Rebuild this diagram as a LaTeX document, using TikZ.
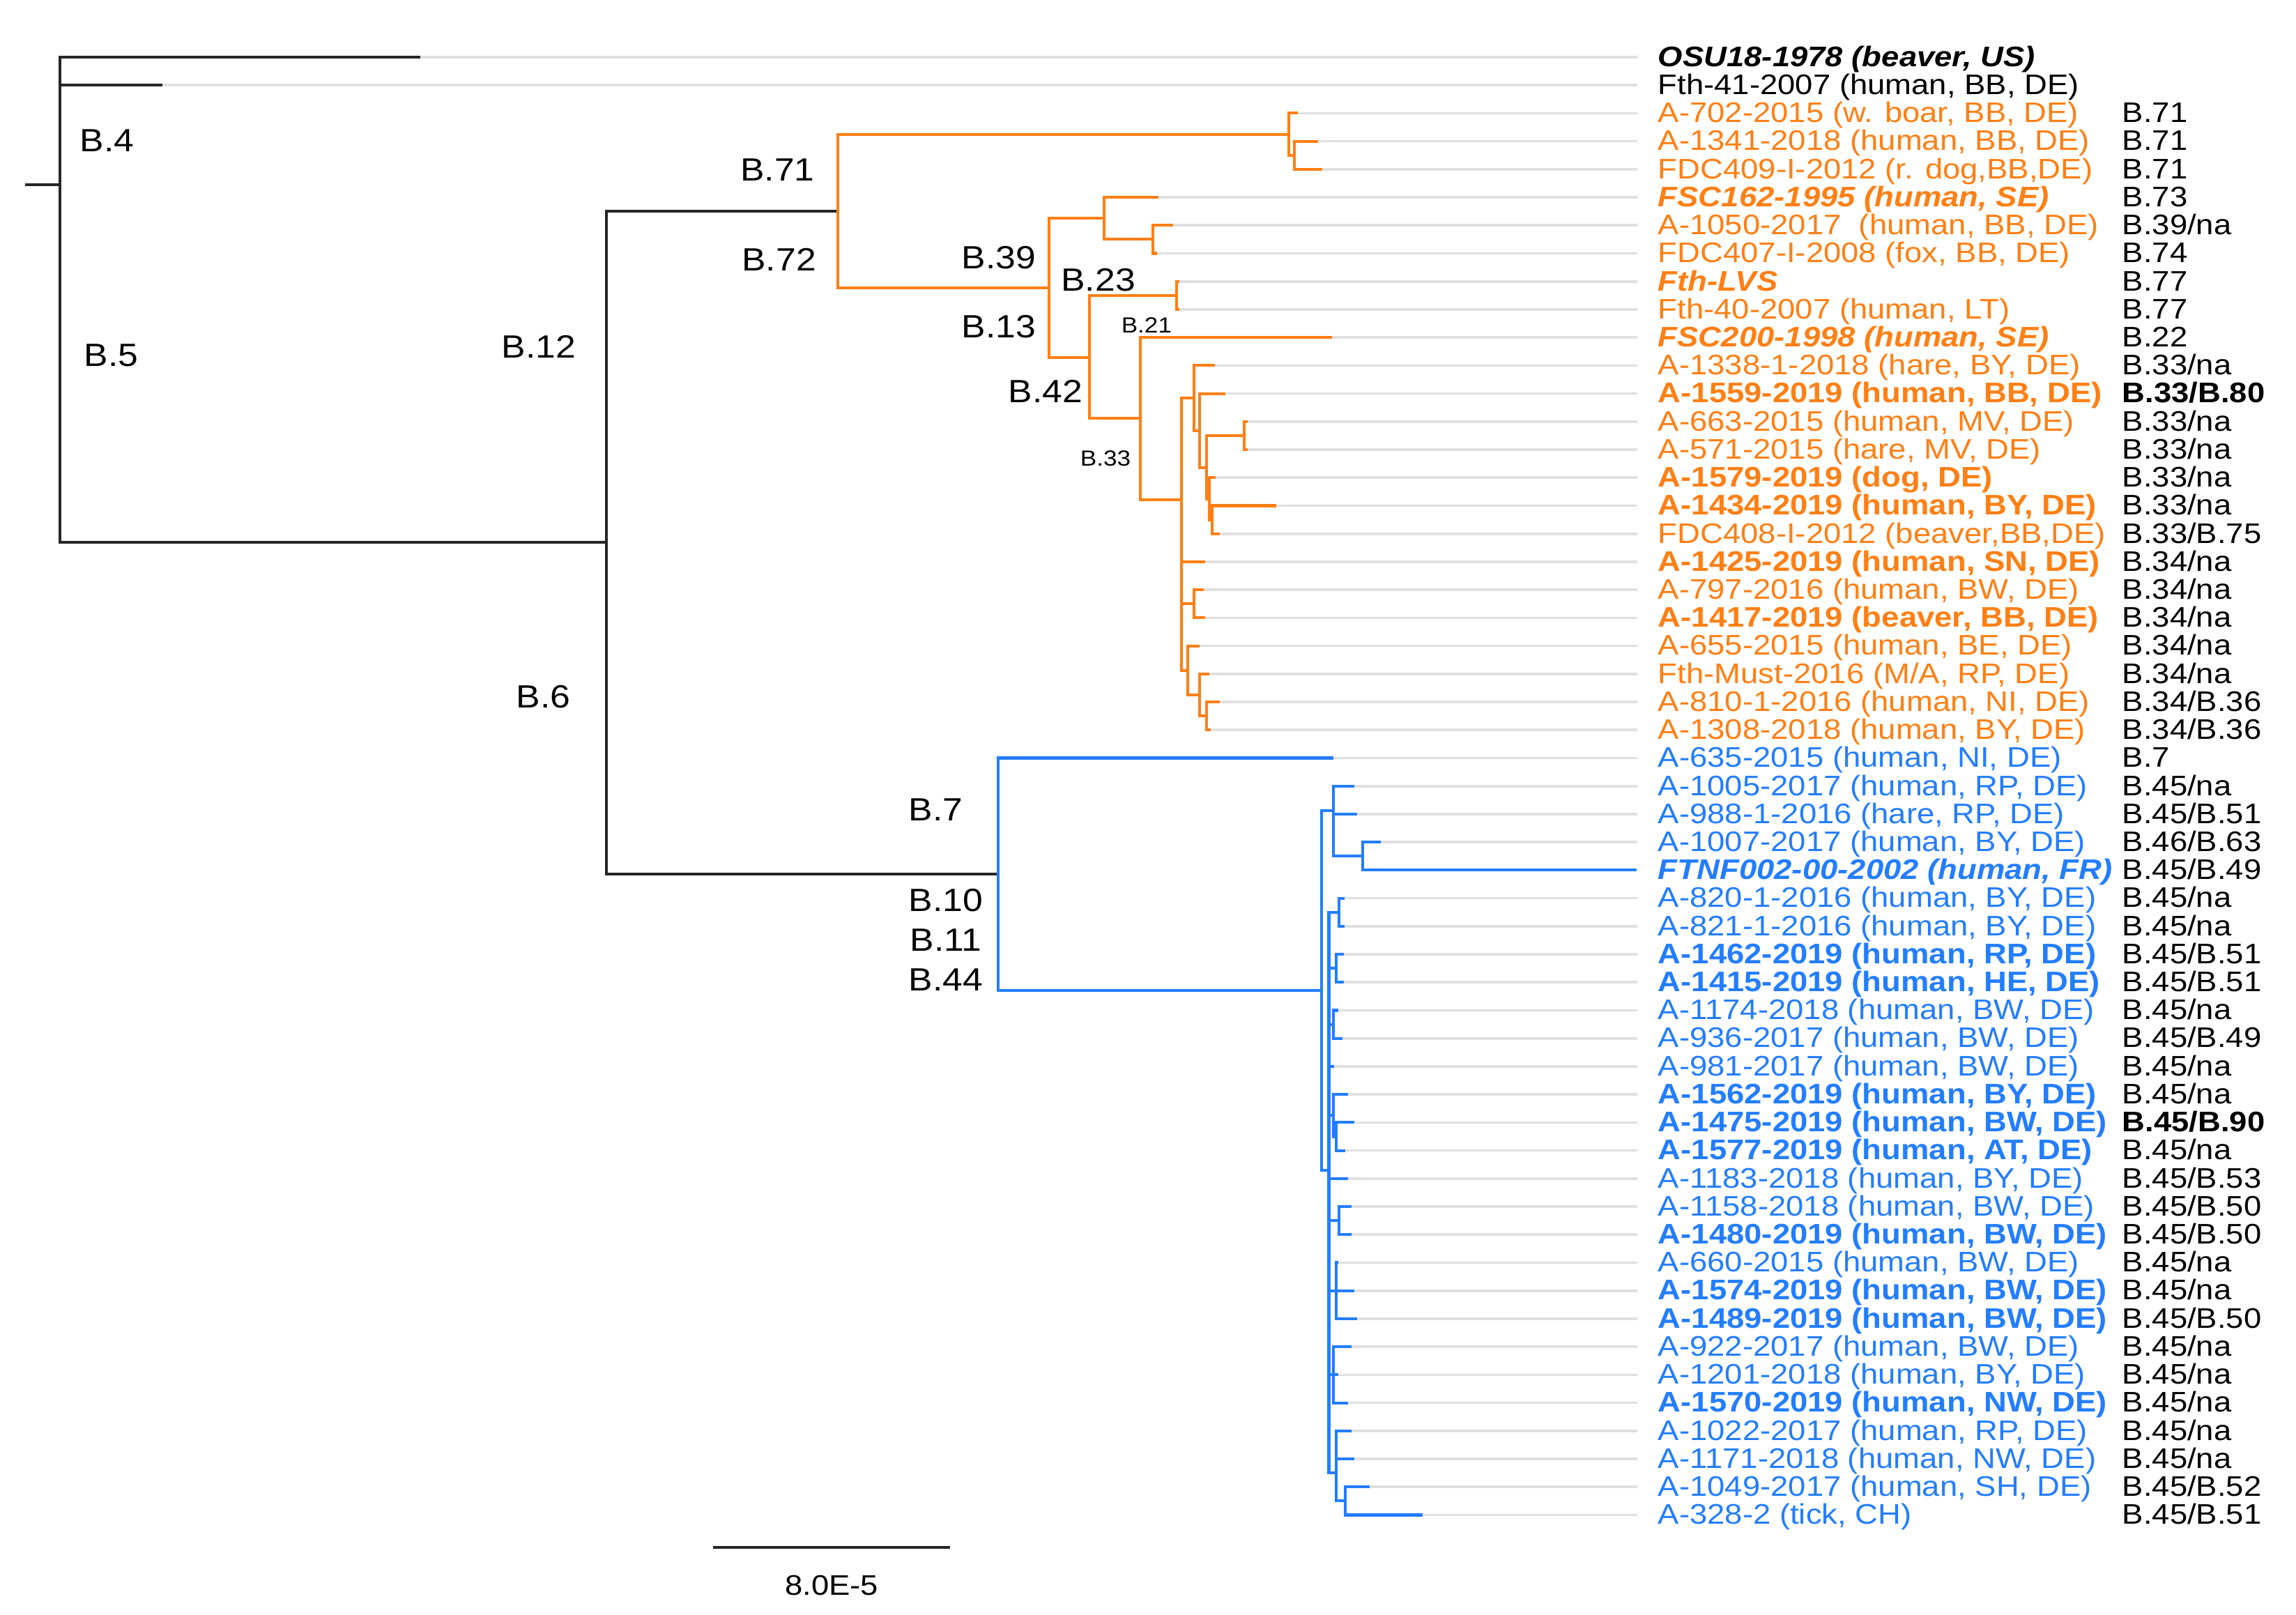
\documentclass[tikz,border=0pt]{standalone}
\usepackage{fontspec}
\setmainfont[FakeStretch=1.12]{Liberation Sans}
\definecolor{treeorange}{RGB}{255,127,20}
\definecolor{treeblue}{RGB}{35,125,255}

\begin{document}
\begin{tikzpicture}[x=0.02cm, y=-0.383cm,
    kbranch/.style={line width=1.1pt, black!85, line cap=rect},
    obranch/.style={line width=1.1pt, treeorange, line cap=rect},
    bbranch/.style={line width=1.1pt, treeblue, line cap=rect},
    leader/.style={line width=1pt, black!12, shorten >=0.28cm},
    leaf/.style={anchor=west, inner sep=0pt, text height=0.72em, text depth=0pt,
                 font=\fontsize{11}{12}\selectfont},
    leafb/.style={leaf, font=\fontsize{11}{12}\selectfont\bfseries},
    leafbi/.style={leaf, font=\fontsize{11}{12}\selectfont\bfseries\itshape},
    clade/.style={inner sep=0pt, font=\fontsize{12.5}{14}\selectfont},
    smallclade/.style={inner sep=0pt, font=\fontsize{8.5}{10}\selectfont}]
    \useasboundingbox (0,-1.037) rectangle (1568,56.56);

    % Leaf labels
    \node[leafbi] (l1) at (1132,1) {OSU18-1978 (beaver, US)};
    \node[leaf] (l2) at (1132,2) {Fth-41-2007 (human, BB, DE)};
    \node[leaf, treeorange] (l3) at (1132,3) {A-702-2015 (w. boar, BB, DE)};
    \node[leaf, treeorange] (l4) at (1132,4) {A-1341-2018 (human, BB, DE)};
    \node[leaf, treeorange] (l5) at (1132,5) {FDC409-I-2012 (r. dog,BB,DE)};
    \node[leafbi, treeorange] (l6) at (1132,6) {FSC162-1995 (human, SE)};
    \node[leaf, treeorange] (l7) at (1132,7) {A-1050-2017 \ (human, BB, DE)};
    \node[leaf, treeorange] (l8) at (1132,8) {FDC407-I-2008 (fox, BB, DE)};
    \node[leafbi, treeorange] (l9) at (1132,9) {Fth-LVS};
    \node[leaf, treeorange] (l10) at (1132,10) {Fth-40-2007 (human, LT)};
    \node[leafbi, treeorange] (l11) at (1132,11) {FSC200-1998 (human, SE)};
    \node[leaf, treeorange] (l12) at (1132,12) {A-1338-1-2018 (hare, BY, DE)};
    \node[leafb, treeorange] (l13) at (1132,13) {A-1559-2019 (human, BB, DE)};
    \node[leaf, treeorange] (l14) at (1132,14) {A-663-2015 (human, MV, DE)};
    \node[leaf, treeorange] (l15) at (1132,15) {A-571-2015 (hare, MV, DE)};
    \node[leafb, treeorange] (l16) at (1132,16) {A-1579-2019 (dog, DE)};
    \node[leafb, treeorange] (l17) at (1132,17) {A-1434-2019 (human, BY, DE)};
    \node[leaf, treeorange] (l18) at (1132,18) {FDC408-I-2012 (beaver,BB,DE)};
    \node[leafb, treeorange] (l19) at (1132,19) {A-1425-2019 (human, SN, DE)};
    \node[leaf, treeorange] (l20) at (1132,20) {A-797-2016 (human, BW, DE)};
    \node[leafb, treeorange] (l21) at (1132,21) {A-1417-2019 (beaver, BB, DE)};
    \node[leaf, treeorange] (l22) at (1132,22) {A-655-2015 (human, BE, DE)};
    \node[leaf, treeorange] (l23) at (1132,23) {Fth-Must-2016 (M/A, RP, DE)};
    \node[leaf, treeorange] (l24) at (1132,24) {A-810-1-2016 (human, NI, DE)};
    \node[leaf, treeorange] (l25) at (1132,25) {A-1308-2018 (human, BY, DE)};
    \node[leaf, treeblue] (l26) at (1132,26) {A-635-2015 (human, NI, DE)};
    \node[leaf, treeblue] (l27) at (1132,27) {A-1005-2017 (human, RP, DE)};
    \node[leaf, treeblue] (l28) at (1132,28) {A-988-1-2016 (hare, RP, DE)};
    \node[leaf, treeblue] (l29) at (1132,29) {A-1007-2017 (human, BY, DE)};
    \node[leafbi, treeblue] (l30) at (1132,30) {FTNF002-00-2002 (human, FR)};
    \node[leaf, treeblue] (l31) at (1132,31) {A-820-1-2016 (human, BY, DE)};
    \node[leaf, treeblue] (l32) at (1132,32) {A-821-1-2016 (human, BY, DE)};
    \node[leafb, treeblue] (l33) at (1132,33) {A-1462-2019 (human, RP, DE)};
    \node[leafb, treeblue] (l34) at (1132,34) {A-1415-2019 (human, HE, DE)};
    \node[leaf, treeblue] (l35) at (1132,35) {A-1174-2018 (human, BW, DE)};
    \node[leaf, treeblue] (l36) at (1132,36) {A-936-2017 (human, BW, DE)};
    \node[leaf, treeblue] (l37) at (1132,37) {A-981-2017 (human, BW, DE)};
    \node[leafb, treeblue] (l38) at (1132,38) {A-1562-2019 (human, BY, DE)};
    \node[leafb, treeblue] (l39) at (1132,39) {A-1475-2019 (human, BW, DE)};
    \node[leafb, treeblue] (l40) at (1132,40) {A-1577-2019 (human, AT, DE)};
    \node[leaf, treeblue] (l41) at (1132,41) {A-1183-2018 (human, BY, DE)};
    \node[leaf, treeblue] (l42) at (1132,42) {A-1158-2018 (human, BW, DE)};
    \node[leafb, treeblue] (l43) at (1132,43) {A-1480-2019 (human, BW, DE)};
    \node[leaf, treeblue] (l44) at (1132,44) {A-660-2015 (human, BW, DE)};
    \node[leafb, treeblue] (l45) at (1132,45) {A-1574-2019 (human, BW, DE)};
    \node[leafb, treeblue] (l46) at (1132,46) {A-1489-2019 (human, BW, DE)};
    \node[leaf, treeblue] (l47) at (1132,47) {A-922-2017 (human, BW, DE)};
    \node[leaf, treeblue] (l48) at (1132,48) {A-1201-2018 (human, BY, DE)};
    \node[leafb, treeblue] (l49) at (1132,49) {A-1570-2019 (human, NW, DE)};
    \node[leaf, treeblue] (l50) at (1132,50) {A-1022-2017 (human, RP, DE)};
    \node[leaf, treeblue] (l51) at (1132,51) {A-1171-2018 (human, NW, DE)};
    \node[leaf, treeblue] (l52) at (1132,52) {A-1049-2017 (human, SH, DE)};
    \node[leaf, treeblue] (l53) at (1132,53) {A-328-2 (tick, CH)};

    % Subtype column
    \foreach \s [count=\r from 3] in {B.71, B.71, B.71, B.73, B.39/na, B.74, B.77, B.77, B.22,
        B.33/na, \textbf{B.33/B.80}, B.33/na, B.33/na, B.33/na, B.33/na, B.33/B.75,
        B.34/na, B.34/na, B.34/na, B.34/na, B.34/na, B.34/B.36, B.34/B.36, B.7,
        B.45/na, B.45/B.51, B.46/B.63, B.45/B.49, B.45/na, B.45/na, B.45/B.51, B.45/B.51,
        B.45/na, B.45/B.49, B.45/na, B.45/na, \textbf{B.45/B.90}, B.45/na, B.45/B.53,
        B.45/B.50, B.45/B.50, B.45/na, B.45/na, B.45/B.50, B.45/na, B.45/na, B.45/na,
        B.45/na, B.45/na, B.45/B.52, B.45/B.51}
        \node[leaf] (s\r) at (1449,\r) {\s};

    % Gray leaders to the labels
    \foreach \t/\r in {286/1, 110/2, 885.2/3, 899/4, 901.8/5, 790.4/6, 800.3/7, 789.2/8,
        804.5/9, 804.5/10, 908.9/11, 828.7/12, 835.8/13, 851/14, 851/15, 829/16, 870.6/17,
        831.9/18, 822/19, 821/20, 822/21, 818.1/22, 824.8/23, 831.9/24, 826/25, 909.8/26,
        923.8/27, 925.8/28, 942.2/29, 917.2/31, 917.2/32, 917/33, 917/34, 913/35, 916/36,
        910/37, 919.8/38, 923.8/39, 917.5/40, 919.8/41, 921.8/42, 921.8/43, 913.2/44,
        923.8/45, 925.8/46, 921.8/47, 913.2/48, 919.8/49, 921.8/50, 923.8/51, 934.2/52,
        970.5/53}
        \draw[leader] (\t,\r) -- (l\r);

    % Backbone
    \draw[kbranch] (18,5.54) -- (41,5.54);
    \draw[kbranch] (41,1) -- (41,18.3);
    \draw[kbranch] (41,1) -- (286,1);
    \draw[kbranch] (41,2) -- (110,2);
    \draw[kbranch] (41,18.3) -- (414,18.3);
    \draw[kbranch] (414,6.5) -- (414,30.14);
    \draw[kbranch] (414,6.5) -- (572,6.5);
    \draw[kbranch] (414,30.14) -- (681.5,30.14);

    % Orange clade (B.71 / B.72)
    \draw[obranch] (880,3.75) -| (572,9.24) -- (716.2,9.24);
    \draw[obranch] (885.2,3) -| (880,4.5) -- (884,4.5);
    \draw[obranch] (899,4) -| (884,5) -- (901.8,5);
    \draw[obranch] (754.1,6.75) -| (716.2,11.71) -- (744.2,11.71);
    \draw[obranch] (790.4,6) -| (754.1,7.5) -- (787.2,7.5);
    \draw[obranch] (800.3,7) -| (787.2,8) -- (789.2,8);
    \draw[obranch] (803.4,9.5) -| (744.2,13.89) -- (778.6,13.89);
    \draw[obranch] (804.5,9) -| (803.4,10) -- (804.5,10);
    \draw[obranch] (908.9,11) -| (778.6,16.79) -- (807,16.79);

    % B.33
    \draw[obranch] (815.3,13.16) -| (807,22.875) -- (811.3,22.875);
    \draw[obranch] (807,19) -- (822,19);
    \draw[obranch] (807,20.5) -- (815.3,20.5);
    \draw[obranch] (821,20) -| (815.3,21) -- (822,21);
    \draw[obranch] (828.7,12) -| (815.3,14.32) -- (819.2,14.32);
    \draw[obranch] (835.8,13) -| (819.2,15.64) -- (824,15.64);
    \draw[obranch] (849.6,14.5) -| (824,16.77) -- (826,16.77);
    \draw[obranch] (851,14) -| (849.6,15) -- (851,15);
    \draw[obranch] (829,16) -| (826,17.5) -- (827.9,17.5);
    \draw[obranch] (870.6,17) -| (827.9,18) -- (831.9,18);
    \draw[obranch] (818.1,22) -| (811.3,23.75) -- (819.2,23.75);
    \draw[obranch] (824.8,23) -| (819.2,24.5) -- (824,24.5);
    \draw[obranch] (831.9,24) -| (824,25) -- (826,25);

    % Blue clade (B.7 / B.10)
    \draw[bbranch] (909.8,26) -| (681.5,34.3) -- (902.4,34.3);
    \draw[bbranch] (910.5,27.87) -| (902.4,40.7) -- (907.5,40.7);
    \draw[bbranch] (923.8,27) -| (910.5,29.5) -- (930.8,29.5);
    \draw[bbranch] (910.5,28) -- (925.8,28);
    \draw[bbranch] (942.2,29) -| (930.8,30) -- (1116.9,30);
    \draw[bbranch] (914.2,31.5) -| (907.5,51.5) -- (912.5,51.5);
    \draw[bbranch] (917.2,31) -| (914.2,32) -- (917.2,32);
    \draw[bbranch] (907.5,33.5) -- (912.5,33.5);
    \draw[bbranch] (917,33) -| (912.5,34) -- (917,34);
    \draw[bbranch] (907.5,35.5) -- (910.8,35.5);
    \draw[bbranch] (913,35) -| (910.8,36) -- (916,36);
    \draw[bbranch] (907.5,37) -- (910,37);
    \draw[bbranch] (907.5,38.75) -- (910.8,38.75);
    \draw[bbranch] (919.8,38) -| (910.8,39.5) -- (912.5,39.5);
    \draw[bbranch] (923.8,39) -| (912.5,40) -- (917.5,40);
    \draw[bbranch] (907.5,41) -- (919.8,41);
    \draw[bbranch] (907.5,42.5) -- (914.2,42.5);
    \draw[bbranch] (921.8,42) -| (914.2,43) -- (921.8,43);
    \draw[bbranch] (907.5,45) -- (923.8,45);
    \draw[bbranch] (913.2,44) -| (912.5,46) -- (925.8,46);
    \draw[bbranch] (907.5,48) -- (913.2,48);
    \draw[bbranch] (921.8,47) -| (910.8,49) -- (919.8,49);
    \draw[bbranch] (921.8,50) -| (912.5,52.5) -- (918.8,52.5);
    \draw[bbranch] (912.5,51) -- (923.8,51);
    \draw[bbranch] (934.2,52) -| (918.8,53) -- (970.5,53);

    % Clade labels
    \node[clade] (b4) at (73,3.98) {B.4};
    \node[clade] (b5) at (76,11.65) {B.5};
    \node[clade] (b12) at (368,11.34) {B.12};
    \node[clade] (b6) at (371,23.82) {B.6};
    \node[clade] (b71) at (531,5.02) {B.71};
    \node[clade] (b72) at (532,8.21) {B.72};
    \node[clade] (b39) at (682,8.15) {B.39};
    \node[clade] (b23) at (750,8.94) {B.23};
    \node[clade] (b13) at (682,10.61) {B.13};
    \node[smallclade] (b21) at (783,10.56) {B.21};
    \node[clade] (b42) at (714,12.91) {B.42};
    \node[smallclade] (b33) at (755,15.31) {B.33};
    \node[clade] (b7) at (639,27.84) {B.7};
    \node[clade] (b10) at (646,31.08) {B.10};
    \node[clade] (b11) at (646,32.49) {B.11};
    \node[clade] (b44) at (646,33.90) {B.44};

    % Scale bar
    \coordinate (bar0) at (488,54.16);
    \coordinate (bar1) at (648,54.16);
    \draw[kbranch] (bar0) -- (bar1);
    \node[inner sep=0pt, font=\fontsize{11}{12}\selectfont] (barlabel) at (568,55.52) {8.0E-5};
\end{tikzpicture}
\end{document}
